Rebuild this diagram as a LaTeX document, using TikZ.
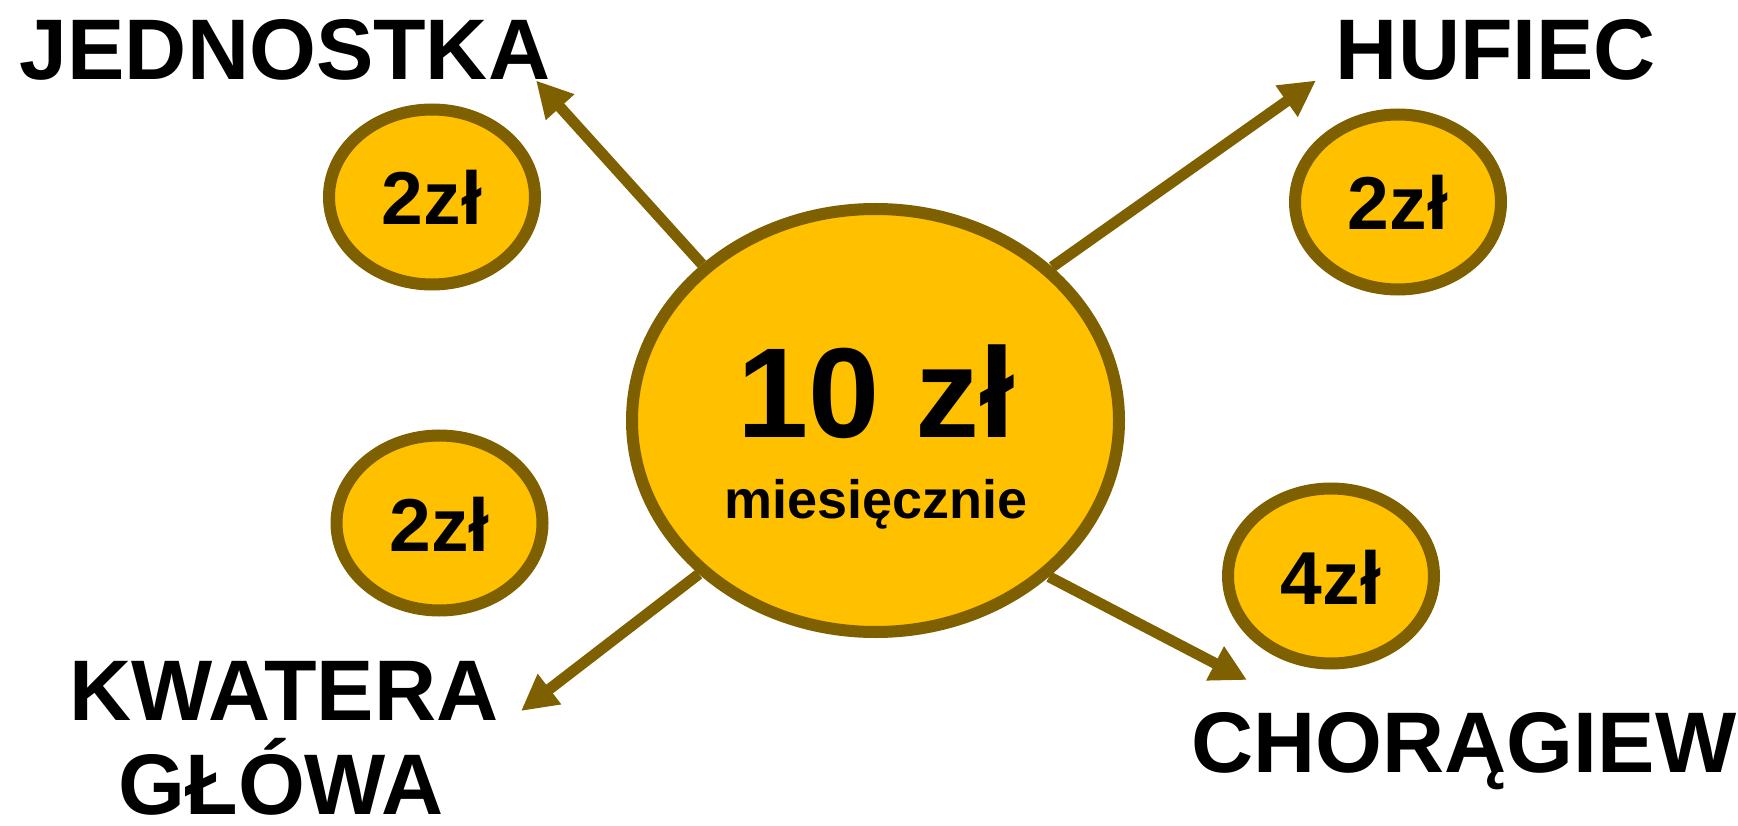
\documentclass[tikz,border=0pt]{standalone}
\usepackage{fontspec}
\setmainfont{Liberation Sans}
\usetikzlibrary{arrows.meta,shapes.geometric}
\definecolor{coingold}{HTML}{FFC000}
\definecolor{coinbrown}{HTML}{7F6000}
\begin{document}
\begin{tikzpicture}[x=1pt,y=-1pt,
 coin/.style={ellipse, draw=coinbrown, fill=coingold, line width=12pt, inner sep=0pt, minimum width=206pt, minimum height=175pt},
 bigcoin/.style={ellipse, draw=coinbrown, fill=coingold, line width=12pt, inner sep=0pt, minimum width=487pt, minimum height=423pt},
 arr/.style={draw=coinbrown, line width=11pt, -{Triangle[length=36pt,width=36pt]}},
 lbl/.style={anchor=base, inner sep=0pt, font=\fontsize{86}{94}\selectfont\bfseries},
 ctxt/.style={anchor=base, inner sep=0pt, font=\fontsize{75}{80}\selectfont\bfseries}]
\useasboundingbox (0,0) rectangle (1738,826);
% central coin
\node[bigcoin] (c) at (875.5,420.5) {};
\node[anchor=base, inner sep=0pt, font=\fontsize{128}{130}\selectfont\bfseries] (ten) at (876,437) {10 zł};
\node[anchor=base, inner sep=0pt, font=\fontsize{54}{60}\selectfont\bfseries] (mies) at (876,518) {miesięcznie};
% small coins
\node[coin] (c1) at (432,197) {};
\node[ctxt] (t1) at (432,225) {2zł};
\node[coin] (c2) at (1398,202) {};
\node[ctxt] (t2) at (1398,230) {2zł};
\node[coin] (c3) at (439.5,523) {};
\node[ctxt] (t3) at (439.5,551) {2zł};
\node[coin] (c4) at (1331,576) {};
\node[ctxt] (t4) at (1331,604) {4zł};
% labels
\node[lbl] (jed) at (285,80) {JEDNOSTKA};
\node[lbl] (huf) at (1496,80) {HUFIEC};
\node[lbl] (kw1) at (284,720) {KWATERA};
\node[lbl] (kw2) at (281,814) {GŁÓWA};
\node[lbl] (cho) at (1464,772.5) {CHORĄGIEW};
% arrow tips
\coordinate (tJ) at (536,80.5);
\coordinate (tH) at (1316,80.5);
\coordinate (tK) at (521,711);
\coordinate (tC) at (1247,680);
\draw[arr] (c.138.7) -- (tJ);
\draw[arr] (c.41.6) -- (tH);
\draw[arr] (c.221.1) -- (tK);
\draw[arr] (c.318.6) -- (tC);
\end{tikzpicture}
\end{document}
